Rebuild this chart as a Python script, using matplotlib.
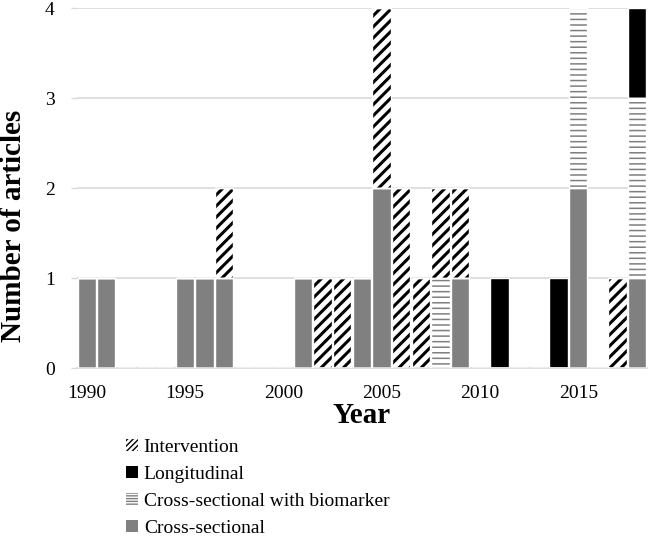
import matplotlib
matplotlib.use("Agg")
import matplotlib.pyplot as plt
import numpy as np
from matplotlib.patches import Patch

years = list(range(1990, 2019))
cross_sectional = [1, 1, 0, 0, 0, 1, 1, 1, 0, 0, 0, 1, 0, 0, 1, 2, 0, 0, 0, 1, 0, 0, 0, 0, 0, 2, 0, 0, 1]
biomarker = [0, 0, 0, 0, 0, 0, 0, 0, 0, 0, 0, 0, 0, 0, 0, 0, 0, 0, 1, 0, 0, 0, 0, 0, 0, 2, 0, 0, 2]
intervention = [0, 0, 0, 0, 0, 0, 0, 1, 0, 0, 0, 0, 1, 1, 0, 2, 2, 1, 1, 1, 0, 0, 0, 0, 0, 0, 0, 1, 0]
longitudinal = [0, 0, 0, 0, 0, 0, 0, 0, 0, 0, 0, 0, 0, 0, 0, 0, 0, 0, 0, 0, 0, 1, 0, 0, 1, 0, 0, 0, 1]
tick_years = [1990, 1995, 2000, 2005, 2010, 2015]

plt.rcParams["font.family"] = ["Liberation Serif", "DejaVu Serif"]

x = np.arange(len(years))
w = 0.93

fig = plt.figure(figsize=(6.51, 5.36), dpi=100)
ax = fig.add_axes([0.118, 0.313, 0.876, 0.672])

# stacking order bottom -> top
series = [
    (cross_sectional, "#808080", None, "#808080", 1.0),
    (biomarker, "white", "---", "#7f7f7f", 1.1),
    (intervention, "white", "///", "black", 2.2),
    (longitudinal, "black", None, "black", 1.0),
]

bottom = np.zeros(len(years))
for vals, fc, hatch, hc, hlw in series:
    vals = np.array(vals, dtype=float)
    with plt.rc_context({"hatch.linewidth": hlw}):
        ax.bar(x, vals, w, bottom=bottom, color=fc, hatch=hatch,
               edgecolor=hc, linewidth=0, zorder=2)
    # thin white outline between segments
    ax.bar(x, vals, w, bottom=bottom, fill=False, edgecolor="white",
           linewidth=1.0, zorder=3)
    bottom += vals

ax.set_xlim(-0.5, len(years) - 0.5)
ax.set_ylim(0, 4)
ax.set_yticks([0, 1, 2, 3, 4])
ax.set_xticks([years.index(t) for t in tick_years])
ax.set_xticklabels([str(t) for t in tick_years])
ax.tick_params(axis="both", labelsize=14, colors="black")
ax.tick_params(axis="x", length=0, pad=12)
ax.tick_params(axis="y", length=4, width=1, color="#d9d9d9", pad=12)
ax.grid(axis="y", color="#d9d9d9", linewidth=1.2, zorder=0)
for s in ["top", "right", "left"]:
    ax.spines[s].set_visible(False)
ax.spines["bottom"].set_color("#d9d9d9")
ax.spines["bottom"].set_linewidth(1.2)

ax.set_ylabel("Number of articles", fontsize=21, fontweight="bold")
ax.yaxis.set_label_coords(-0.088, 0.394)
ax.set_xlabel("Year", fontsize=21, fontweight="bold", labelpad=0)

with plt.rc_context({"hatch.linewidth": 2.0}):
    h_int = Patch(facecolor="white", edgecolor="black", hatch="//////", linewidth=0)
h_lon = Patch(facecolor="black", edgecolor="black", linewidth=0)
h_bio = Patch(facecolor="white", edgecolor="#7f7f7f", hatch="------", linewidth=0)
h_cs = Patch(facecolor="#808080", edgecolor="#808080", linewidth=0)

fig.legend([h_int, h_lon, h_bio, h_cs],
           ["Intervention", "Longitudinal", "Cross-sectional with biomarker", "Cross-sectional"],
           loc="upper left", bbox_to_anchor=(0.179, 0.2), frameon=False,
           fontsize=14, handlelength=0.6, handleheight=0.6, handletextpad=0.3,
           labelspacing=0.52, borderpad=0)

fig.savefig("out.png", dpi=100)
